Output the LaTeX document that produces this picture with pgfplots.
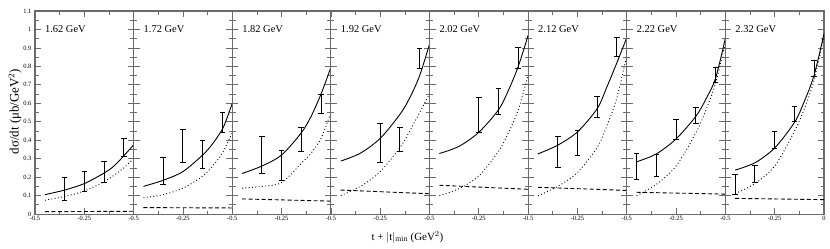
\documentclass[border=0pt]{standalone}
\usepackage{pgfplots}
\pgfplotsset{compat=1.18}
\usepgfplotslibrary{groupplots}
\usepackage{fontspec}
\setmainfont{Liberation Serif}
\definecolor{axc}{gray}{0.42}
\pgfplotsset{
  panel/.style={
    /pgf/number format/assume math mode=true,
    width=98.6bp, height=203bp, scale only axis,
    xmin=-0.5, xmax=0, ymin=0, ymax=1.1,
    axis line style={axc, line width=1.1bp},
    every tick/.style={axc, line width=0.7bp},
    major tick length=6bp, minor tick length=3.5bp,
    xtick={-0.5,-0.25,0}, minor xtick={-0.375,-0.125},
    xticklabels={-0.5,-0.25,{}},
    ytick={0,0.1,0.2,0.3,0.4,0.5,0.6,0.7,0.8,0.9,1,1.1},
    yticklabels={0,0.1,0.2,0.3,0.4,0.5,0.6,0.7,0.8,0.9,1,1.1},
    minor ytick={0.05,0.15,0.25,0.35,0.45,0.55,0.65,0.75,0.85,0.95,1.05},
    tick label style={font=\fontsize{6.5}{7}\selectfont},
    xticklabel style={yshift=1bp},
  },
  th/.style={black, line width=0.9bp, smooth},
  dt/.style={black, line width=0.9bp, smooth, dash pattern=on 0.9bp off 2.4bp},
  ds/.style={black, line width=0.9bp, dash pattern=on 4bp off 2.5bp},
  eb/.style={draw=none, mark=none, forget plot,
    error bars/.cd, y dir=both, y explicit,
    error bar style={black, line width=1bp},
    error mark options={rotate=90, mark size=2.8bp, line width=0.8bp, black}},
}
\newcommand{\ttl}[1]{\node[anchor=west, inner sep=0pt, font=\fontsize{10.5}{12}\selectfont] at (axis cs:-0.45,1) {#1};}
\begin{document}
\begin{tikzpicture}
\begin{groupplot}[group style={group size=8 by 1, horizontal sep=0pt, y descriptions at=edge left}, panel]
% ---- 1.62
\nextgroupplot
\addplot[th] coordinates {(-0.45,0.105) (-0.35,0.13) (-0.25,0.165) (-0.15,0.222) (-0.1,0.26) (-0.05,0.315) (0,0.375)};
\addplot[dt] coordinates {(-0.45,0.075) (-0.35,0.095) (-0.25,0.125) (-0.15,0.175) (-0.1,0.21) (-0.05,0.25) (0,0.30)};
\addplot[ds] coordinates {(-0.45,0.013) (0,0.015)};
\addplot[eb] table[y error=e] {
x y e
-0.35 0.136 0.064
-0.25 0.1775 0.0525
-0.15 0.2285 0.0545
-0.05 0.3625 0.0475
};
\ttl{1.62 GeV}
% ---- 1.72
\nextgroupplot
\addplot[th] coordinates {(-0.45,0.15) (-0.35,0.183) (-0.25,0.23) (-0.15,0.32) (-0.1,0.38) (-0.05,0.46) (-0.025,0.525) (0,0.60)};
\addplot[dt] coordinates {(-0.45,0.088) (-0.35,0.105) (-0.25,0.14) (-0.15,0.205) (-0.1,0.26) (-0.05,0.33) (0,0.44)};
\addplot[ds] coordinates {(-0.45,0.035) (0,0.033)};
\addplot[eb] table[y error=e] {
x y e
-0.35 0.233 0.075
-0.25 0.369 0.088
-0.15 0.3235 0.0775
-0.05 0.497 0.053
};
\ttl{1.72 GeV}
% ---- 1.82
\nextgroupplot
\addplot[th] coordinates {(-0.45,0.22) (-0.35,0.26) (-0.25,0.32) (-0.15,0.44) (-0.1,0.53) (-0.05,0.65) (0,0.795)};
\addplot[dt] coordinates {(-0.45,0.14) (-0.35,0.15) (-0.25,0.17) (-0.15,0.275) (-0.1,0.33) (-0.05,0.41) (0,0.55)};
\addplot[ds] coordinates {(-0.45,0.082) (0,0.07)};
\addplot[eb] table[y error=e] {
x y e
-0.35 0.3195 0.0995
-0.25 0.2645 0.0815
-0.15 0.4055 0.0655
-0.05 0.598 0.051
};
\ttl{1.82 GeV}
% ---- 1.92
\nextgroupplot
\addplot[th] coordinates {(-0.45,0.287) (-0.35,0.33) (-0.25,0.41) (-0.15,0.54) (-0.1,0.63) (-0.05,0.75) (0,0.92)};
\addplot[dt] coordinates {(-0.45,0.10) (-0.35,0.15) (-0.25,0.23) (-0.15,0.36) (-0.1,0.45) (-0.05,0.55) (0,0.65)};
\addplot[ds] coordinates {(-0.45,0.13) (0,0.11)};
\addplot[eb] table[y error=e] {
x y e
-0.25 0.3835 0.1055
-0.15 0.4025 0.0655
-0.05 0.8425 0.0535
};
\ttl{1.92 GeV}
% ---- 2.02
\nextgroupplot
\addplot[th] coordinates {(-0.45,0.328) (-0.35,0.367) (-0.25,0.443) (-0.15,0.565) (-0.1,0.67) (-0.05,0.80) (0,0.968)};
\addplot[dt] coordinates {(-0.45,0.099) (-0.35,0.138) (-0.25,0.206) (-0.15,0.34) (-0.1,0.44) (-0.05,0.565) (0,0.753)};
\addplot[ds] coordinates {(-0.45,0.156) (0,0.134)};
\addplot[eb] table[y error=e] {
x y e
-0.25 0.537 0.094
-0.15 0.6095 0.0715
-0.05 0.845 0.056
};
\ttl{2.02 GeV}
% ---- 2.12
\nextgroupplot
\addplot[th] coordinates {(-0.45,0.326) (-0.35,0.373) (-0.25,0.445) (-0.15,0.571) (-0.1,0.69) (-0.05,0.82) (0,0.955)};
\addplot[dt] coordinates {(-0.45,0.099) (-0.35,0.15) (-0.25,0.225) (-0.15,0.36) (-0.1,0.48) (-0.05,0.63) (0,0.86)};
\addplot[ds] coordinates {(-0.45,0.145) (0,0.128)};
\addplot[eb] table[y error=e] {
x y e
-0.35 0.336 0.082
-0.25 0.386 0.067
-0.15 0.5825 0.0575
-0.05 0.906 0.051
};
\ttl{2.12 GeV}
% ---- 2.22
\nextgroupplot
\addplot[th] coordinates {(-0.45,0.283) (-0.35,0.326) (-0.25,0.407) (-0.15,0.529) (-0.1,0.62) (-0.05,0.735) (0,0.953)};
\addplot[dt] coordinates {(-0.45,0.099) (-0.35,0.161) (-0.25,0.26) (-0.15,0.439) (-0.1,0.56) (-0.05,0.708) (0,0.927)};
\addplot[ds] coordinates {(-0.45,0.118) (0,0.108)};
\addplot[eb] table[y error=e] {
x y e
-0.45 0.256 0.07
-0.35 0.2625 0.0585
-0.25 0.4605 0.0535
-0.15 0.536 0.043
-0.05 0.7535 0.0385
};
\ttl{2.22 GeV}
% ---- 2.32
\nextgroupplot[xticklabels={-0.5,-0.25,0}]
\addplot[th] coordinates {(-0.45,0.238) (-0.35,0.278) (-0.25,0.358) (-0.15,0.496) (-0.1,0.61) (-0.05,0.753) (0,0.977)};
\addplot[dt] coordinates {(-0.45,0.111) (-0.35,0.165) (-0.25,0.26) (-0.15,0.448) (-0.1,0.57) (-0.05,0.726) (0,0.968)};
\addplot[ds] coordinates {(-0.45,0.085) (0,0.078)};
\addplot[eb] table[y error=e] {
x y e
-0.45 0.1615 0.0535
-0.35 0.2185 0.0465
-0.25 0.4025 0.0455
-0.15 0.541 0.041
-0.05 0.7885 0.0415
};
\ttl{2.32 GeV}
\end{groupplot}
\node[font=\fontsize{11}{12}\selectfont] at ([shift={(-22bp,-23bp)}]group c4r1.south east) {t + $|$t$|_{\mathrm{min}}$ (GeV$^2$)};
\node[rotate=90, font=\fontsize{13}{14}\selectfont] at ([shift={(-20bp,1bp)}]group c1r1.west) {dσ/dt (μb/GeV$^2$)};
\pgfresetboundingbox
\path ([shift={(-35bp,-34bp)}]group c1r1.south west) rectangle ([shift={(6bp,11bp)}]group c8r1.north east);
\end{tikzpicture}
\end{document}
